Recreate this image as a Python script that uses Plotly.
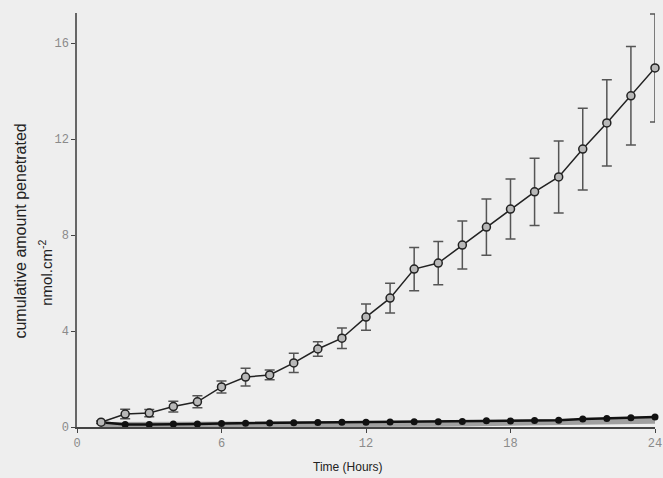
import plotly.graph_objects as go

hours = list(range(1, 25))
open_mean = [0.2, 0.54, 0.58, 0.85, 1.05, 1.67, 2.08, 2.17, 2.67, 3.25, 3.7, 4.58,
             5.37, 6.58, 6.83, 7.58, 8.33, 9.08, 9.8, 10.42, 11.58, 12.67, 13.8, 14.96]
open_err = [0.05, 0.2, 0.15, 0.22, 0.25, 0.25, 0.37, 0.2, 0.4, 0.3, 0.43, 0.55,
            0.62, 0.9, 0.9, 1.0, 1.17, 1.25, 1.4, 1.5, 1.7, 1.8, 2.05, 2.25]
filled_mean = [0.2, 0.1, 0.1, 0.13, 0.13, 0.15, 0.16, 0.17, 0.18, 0.19, 0.2, 0.2,
               0.21, 0.22, 0.22, 0.23, 0.26, 0.25, 0.27, 0.28, 0.33, 0.35, 0.39, 0.42]
band_mean = [0.08, 0.08, 0.08, 0.09, 0.09, 0.1, 0.1, 0.11, 0.11, 0.12, 0.12, 0.13,
             0.13, 0.14, 0.14, 0.15, 0.16, 0.16, 0.17, 0.18, 0.2, 0.22, 0.24, 0.26]
x_ticks = [0, 6, 12, 18, 24]
y_ticks = [0, 4, 8, 12, 16]

fig = go.Figure()
fig.add_trace(go.Scatter(
    x=hours, y=band_mean, mode="lines",
    line=dict(color="#a0a0a0", width=6), cliponaxis=False, hoverinfo="skip"))
fig.add_trace(go.Scatter(
    x=hours, y=filled_mean, mode="lines+markers",
    line=dict(color="#111111", width=2.5),
    marker=dict(symbol="circle", size=7, color="#111111"),
    cliponaxis=False))
fig.add_trace(go.Scatter(
    x=hours, y=open_mean, mode="lines+markers",
    line=dict(color="#222222", width=1.5),
    marker=dict(symbol="circle", size=8, color="#b8b8b8",
                line=dict(color="#222222", width=1.5)),
    error_y=dict(type="data", array=open_err, visible=True,
                 color="#555555", thickness=1.5, width=5),
    cliponaxis=False))

fig.update_layout(
    width=663, height=478,
    margin=dict(l=77, r=8, t=13, b=51),
    paper_bgcolor="#eeeeee", plot_bgcolor="#eeeeee",
    showlegend=False,
    font=dict(family="Liberation Sans, Arial", color="#222222"),
    xaxis=dict(range=[0, 24], tickvals=x_ticks, showgrid=False, zeroline=False,
               showline=True, linecolor="#444444", linewidth=1.5,
               ticks="outside", ticklen=4, tickcolor="#444444",
               ticklabeloverflow="allow", automargin=False,
               tickfont=dict(family="Liberation Mono", size=12, color="#8a8a8a")),
    yaxis=dict(range=[0, 17.25], tickvals=y_ticks, showgrid=False, zeroline=False,
               showline=True, linecolor="#666666", linewidth=1.5,
               ticks="outside", ticklen=4, tickcolor="#444444", automargin=False,
               tickfont=dict(family="Liberation Mono", size=12, color="#8a8a8a")),
    annotations=[
        dict(text="Time (Hours)", xref="paper", yref="paper", x=0.468, y=-0.0966,
             yanchor="middle", showarrow=False,
             font=dict(family="Liberation Sans, Arial", size=12, color="#222222")),
        dict(text="cumulative amount penetrated", xref="paper", yref="paper",
             x=-0.098, y=0.473, xanchor="center", yanchor="middle", textangle=-90,
             showarrow=False,
             font=dict(family="Liberation Sans, Arial", size=16, color="#222222")),
        dict(text="nmol.cm<sup>-2</sup>", xref="paper", yref="paper",
             x=-0.054, y=0.372, xanchor="center", yanchor="middle", textangle=-90,
             showarrow=False,
             font=dict(family="Liberation Sans, Arial", size=15, color="#222222")),
    ],
)

fig.write_html("out.html", config={"displayModeBar": False},
               post_script="document.body.style.margin='0';")
